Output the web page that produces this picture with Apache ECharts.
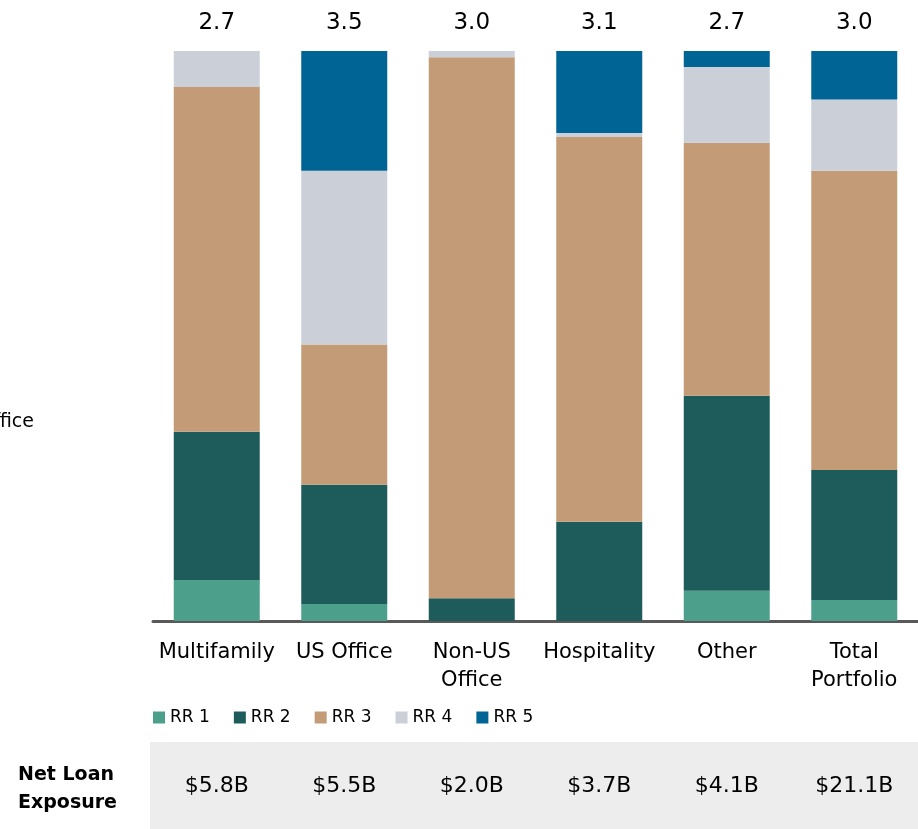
<!DOCTYPE html>
<html>
<head>
<meta charset="utf-8">
<script src="https://cdn.jsdelivr.net/npm/echarts@6/dist/echarts.min.js"></script>
<style>
html,body{margin:0;padding:0;background:#fff;}
#main{width:918px;height:829px;}
</style>
</head>
<body>
<div id="main"></div>
<script>
var categories = ['Multifamily', 'US Office', 'Non-US\nOffice', 'Hospitality', 'Other', 'Total\nPortfolio'];
var avgRating = ['2.7', '3.5', '3.0', '3.1', '2.7', '3.0'];
var exposure = ['$5.8B', '$5.5B', '$2.0B', '$3.7B', '$4.1B', '$21.1B'];
// share of each risk rating, percent
var rr1 = [7.2, 3.0, 0, 0, 5.3, 3.7];
var rr2 = [26.0, 20.9, 4.0, 17.4, 34.2, 22.8];
var rr3 = [60.5, 24.6, 94.9, 67.5, 44.4, 52.5];
var rr4 = [6.3, 30.5, 1.1, 0.7, 13.3, 12.5];
var rr5 = [0, 21.0, 0, 14.4, 2.8, 8.6];

var font = 'DejaVu Sans';
var myChart = echarts.init(document.getElementById('main'));

function bar(name, data, color){
	return {
		name: name,
		type: 'bar',
		stack: 'rr',
		barWidth: 86,
		data: data,
		itemStyle: {color: color},
		z: 3
	};
}

option = {
	animation: false,
	textStyle: {fontFamily: font},
	grid: {left: 153, right: -3, top: 51, bottom: 208, containLabel: false},
	legend: {
		left: 148,
		top: 704,
		icon: 'rect',
		itemWidth: 12,
		itemHeight: 12,
		itemGap: 24,
		textStyle: {fontSize: 17, color: '#000', fontFamily: font},
		data: ['RR 1', 'RR 2', 'RR 3', 'RR 4', 'RR 5']
	},
	xAxis: [
		{
			type: 'category',
			data: categories,
			axisLine: {lineStyle: {color: '#595959', width: 3}},
			axisTick: {show: false},
			axisLabel: {color: '#000', fontSize: 21, lineHeight: 28, margin: 18, interval: 0}
		},
		{
			type: 'category',
			position: 'top',
			data: avgRating,
			axisLine: {show: false},
			axisTick: {show: false},
			axisLabel: {color: '#000', fontSize: 23, margin: 16, interval: 0}
		},
		{
			type: 'category',
			position: 'bottom',
			offset: 140,
			data: exposure,
			axisLine: {show: false},
			axisTick: {show: false},
			axisLabel: {color: '#000', fontSize: 22, margin: 14, interval: 0}
		}
	],
	yAxis: {type: 'value', min: 0, max: 100, show: false},
	graphic: [
		{type: 'rect', left: 150, top: 742, shape: {width: 768, height: 87}, style: {fill: '#ededed'}, z: 0},
		{type: 'text', left: 18, top: 761, style: {text: 'Net Loan\nExposure', font: 'bold 19px ' + font, fill: '#000', lineHeight: 28}, z: 5},
		{type: 'text', right: 884, top: 413, style: {text: 'Office', font: '19px ' + font, fill: '#000'}, z: 5}
	],
	series: [
		bar('RR 1', rr1, '#4ca08b'),
		bar('RR 2', rr2, '#1e5c5c'),
		bar('RR 3', rr3, '#c39b76'),
		bar('RR 4', rr4, '#cacfd8'),
		bar('RR 5', rr5, '#006494')
	]
};
myChart.setOption(option);
</script>
</body>
</html>
